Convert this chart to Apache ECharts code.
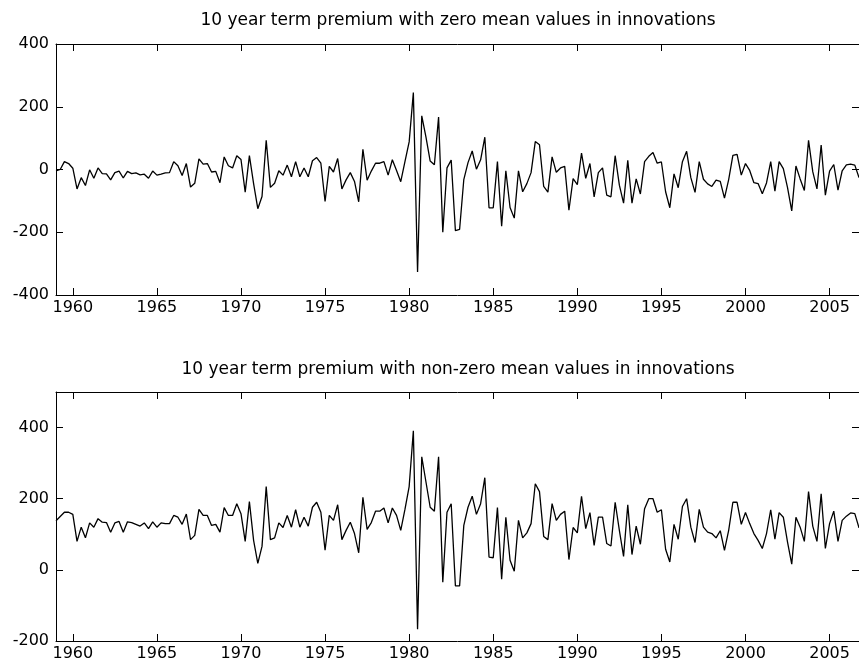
<!DOCTYPE html>
<html>
<head>
<meta charset="utf-8">
<title>10 year term premium</title>
<script src="https://cdn.jsdelivr.net/npm/echarts@6/dist/echarts.min.js"></script>
<style>
  html, body { margin: 0; padding: 0; background: #fff; }
  #chart { width: 859px; height: 671px; }
</style>
</head>
<body>
<div id="chart"></div>
<script>
// quarterly sample, 1959Q1 .. 2006Q4
const startYear = 1959;
const titles = [
  '10 year term premium with zero mean values in innovations',
  '10 year term premium with non-zero mean values in innovations'
];
const xTickYears = [1960, 1965, 1970, 1975, 1980, 1985, 1990, 1995, 2000, 2005];
const yTicksTop = [-400, -200, 0, 200, 400];
const yTicksBottom = [-200, 0, 200, 400];

// zero mean innovations
const zeroMean = [
  -4, 0, 25, 19, 4, -62, -26, -51, -1, -28,
  5, -13, -14, -33, -10, -5, -27, -6, -13, -11,
  -17, -15, -28, -5, -18, -15, -11, -10, 25, 12,
  -19, 19, -56, -44, 34, 17, 19, -8, -6, -42,
  40, 12, 5, 44, 32, -72, 44, -45, -125, -86,
  93, -57, -44, -4, -18, 14, -23, 25, -23, 5,
  -23, 28, 38, 20, -102, 10, -8, 35, -62, -33,
  -10, -38, -103, 64, -34, -5, 20, 20, 25, -18,
  31, -3, -39, 25, 88, 245, -327, 171, 103, 27,
  15, 167, -200, 5, 30, -195, -191, -32, 22, 59,
  1, 31, 103, -122, -122, 25, -181, -4, -121, -155,
  -4, -71, -45, -10, 89, 79, -54, -72, 40, -9,
  5, 10, -130, -29, -48, 52, -28, 19, -87, -10,
  5, -82, -87, 44, -50, -107, 29, -107, -30, -78,
  25, 42, 54, 20, 24, -71, -122, -14, -58, 25,
  58, -26, -73, 25, -31, -46, -54, -34, -38, -91,
  -32, 45, 48, -18, 19, -3, -42, -45, -77, -43,
  25, -69, 25, 3, -58, -132, 11, -30, -67, 93,
  -7, -62, 78, -82, -5, 16, -66, -4, 15, 17,
  14, -26
];

// non-zero mean innovations
const nonZeroMean = [
  138, 150, 162, 162, 156, 80, 120, 90, 132, 120,
  144, 134, 133, 106, 132, 136, 106, 135, 133, 128,
  123, 132, 116, 135, 120, 132, 130, 130, 153, 148,
  128, 157, 85, 97, 170, 153, 153, 125, 128, 106,
  175, 153, 153, 186, 158, 80, 192, 83, 18, 66,
  234, 85, 90, 132, 119, 153, 120, 169, 120, 148,
  123, 176, 190, 162, 55, 153, 139, 183, 85, 111,
  134, 102, 48, 204, 114, 133, 165, 165, 174, 132,
  174, 153, 111, 170, 234, 391, -167, 318, 247, 176,
  165, 318, -35, 162, 186, -45, -45, 125, 176, 207,
  156, 186, 259, 36, 34, 175, -26, 148, 27, -4,
  139, 90, 104, 130, 242, 220, 94, 85, 186, 139,
  156, 165, 29, 119, 104, 207, 116, 161, 69, 148,
  148, 74, 67, 190, 111, 38, 183, 43, 123, 72,
  172, 200, 200, 162, 169, 58, 22, 128, 86, 178,
  200, 120, 77, 170, 120, 106, 102, 90, 110, 55,
  111, 190, 190, 128, 161, 130, 102, 83, 60, 102,
  169, 86, 161, 148, 78, 16, 148, 120, 80, 220,
  123, 80, 214, 60, 130, 165, 80, 139, 151, 160,
  158, 118
];

const dates = zeroMean.map((v, i) => startYear + i / 4);
const pairs = (vals) => vals.map((v, i) => [dates[i], v]);

const FONT = 'DejaVu Sans';
const axisLine = { show: true, onZero: false, lineStyle: { color: '#000', width: 1 } };

function xAxes (gridIndex) {
  const base = {
    type: 'value',
    gridIndex: gridIndex,
    min: 1959,
    max: 2006.75,
    axisLine: axisLine,
    axisTick: { inside: true, length: 7, customValues: xTickYears, lineStyle: { color: '#000' } },
    splitLine: { show: false }
  };
  return [
    Object.assign({}, base, {
      position: 'bottom',
      axisLabel: {
        customValues: xTickYears,
        formatter: (v) => String(v), // no thousands separator
        color: '#000', fontFamily: FONT, fontSize: 16, margin: 5
      }
    }),
    Object.assign({}, base, { position: 'top', axisLabel: { show: false } })
  ];
}

function yAxes (gridIndex, min, max, ticks) {
  const base = {
    type: 'value',
    gridIndex: gridIndex,
    min: min,
    max: max,
    axisLine: axisLine,
    axisTick: { inside: true, length: 7, customValues: ticks, lineStyle: { color: '#000' } },
    splitLine: { show: false }
  };
  return [
    Object.assign({}, base, {
      position: 'left',
      axisLabel: { customValues: ticks, color: '#000', fontFamily: FONT, fontSize: 16, margin: 7 }
    }),
    Object.assign({}, base, { position: 'right', axisLabel: { show: false } })
  ];
}

const chart = echarts.init(document.getElementById('chart'));
const option = {
  animation: false,
  backgroundColor: '#fff',
  graphic: [
    { type: 'text', x: 458, y: 21, style: { text: titles[0], textAlign: 'center', textVerticalAlign: 'middle', font: '17px "DejaVu Sans"', fill: '#000' } },
    { type: 'text', x: 458, y: 370, style: { text: titles[1], textAlign: 'center', textVerticalAlign: 'middle', font: '17px "DejaVu Sans"', fill: '#000' } }
  ],
  grid: [
    { left: 56, top: 44, width: 803, height: 251 },
    { left: 56, top: 392, width: 803, height: 249 }
  ],
  xAxis: xAxes(0).concat(xAxes(1)),
  yAxis: yAxes(0, -400, 400, yTicksTop).concat(yAxes(1, -200, 500, yTicksBottom)),
  series: [
    {
      type: 'line',
      xAxisIndex: 0,
      yAxisIndex: 0,
      data: pairs(zeroMean),
      showSymbol: false,
      lineStyle: { color: '#000', width: 1.3 }
    },
    {
      type: 'line',
      xAxisIndex: 2,
      yAxisIndex: 2,
      data: pairs(nonZeroMean),
      showSymbol: false,
      lineStyle: { color: '#000', width: 1.3 }
    }
  ]
};
chart.setOption(option);
</script>
</body>
</html>
